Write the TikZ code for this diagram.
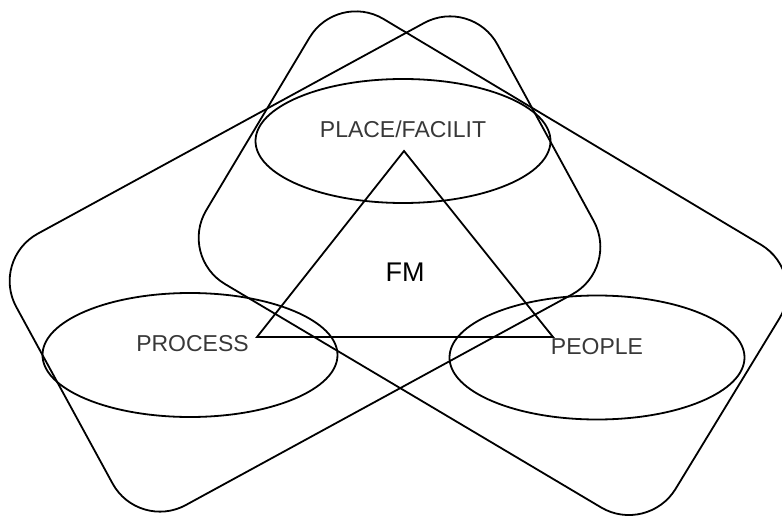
\documentclass[tikz,border=0pt]{standalone}
\usepackage{fontspec}
\setmainfont{Liberation Sans}
\usetikzlibrary{shapes.geometric}
\begin{document}
\begin{tikzpicture}[x=1pt,y=-1pt,
  outline/.style={draw=black,line width=1.8pt},
  roundrect/.style={outline,rounded corners=54pt},
  oval/.style={ellipse,outline,inner sep=0pt,minimum width=295pt,minimum height=124pt},
  lbl/.style={inner sep=0pt,text=black!78,font=\fontsize{23}{23}\selectfont},
  fmlbl/.style={inner sep=0pt,text=black,font=\fontsize{27}{27}\selectfont}]
\useasboundingbox (0,0) rectangle (782,516);
% left rotated rounded rectangle
\coordinate (LT) at (471.6,-2.9);
\coordinate (LR) at (619.6,268.5);
\coordinate (LB) at (138.4,530.9);
\coordinate (LL) at (-9.6,259.5);
\coordinate (LM) at (231.0,128.3);
\draw[roundrect] (LM) -- (LT) -- (LR) -- (LB) -- (LL) -- cycle;
% right rotated rounded rectangle
\coordinate (RT) at (337.2,-8.7);
\coordinate (RR) at (807.4,272.5);
\coordinate (RB) at (647.5,535.0);
\coordinate (RL) at (178.6,256.5);
\coordinate (RM) at (572.3,131.9);
\draw[roundrect] (RM) -- (RR) -- (RB) -- (RL) -- (RT) -- cycle;
% ellipses
\node[oval] (place) at (403,141) {};
\node[oval] (process) at (190,355) {};
\node[oval] (people) at (597,357.5) {};
% triangle
\coordinate (apex) at (404,151);
\coordinate (tl) at (257,337);
\coordinate (tr) at (553,337);
\draw[outline,line join=miter] (apex) -- (tl) -- (tr) -- cycle;
% labels
\node[lbl] (placetxt) at (403,129.5) {PLACE/FACILIT};
\node[lbl] (processtxt) at (192.5,343.5) {PROCESS};
\node[lbl] (peopletxt) at (597,346.5) {PEOPLE};
\node[fmlbl] (fm) at (405,272) {FM};
\end{tikzpicture}
\end{document}
